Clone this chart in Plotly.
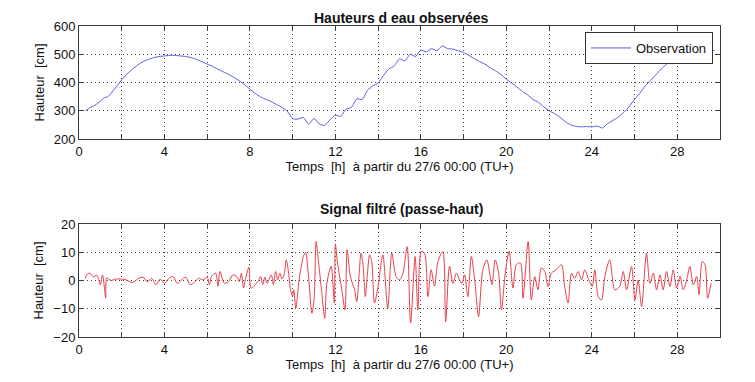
import plotly.graph_objects as go

# ---- Data ----
obs_t = [0.3, 0.5, 0.75, 1.0, 1.2, 1.35, 1.5, 1.75, 2.0, 2.25, 2.5, 2.75, 3.0, 3.25, 3.5, 3.75,
         4.0, 4.25, 4.5, 4.75, 5.0, 5.25, 5.5, 5.75, 6.0, 6.25, 6.5, 6.75, 7.0, 7.25, 7.5, 7.75,
         8.0, 8.25, 8.5, 8.75, 9.0, 9.25, 9.5, 9.75, 10.0, 10.2, 10.5, 10.75, 11.0, 11.25, 11.5,
         11.75, 12.0, 12.25, 12.5, 12.75, 13.0, 13.25, 13.5, 13.75, 14.0, 14.25, 14.5, 14.75,
         15.0, 15.25, 15.5, 15.75, 16.0, 16.25, 16.5, 16.75, 17.0, 17.25, 17.5, 17.75, 18.0,
         18.25, 18.5, 18.75, 19.0, 19.25, 19.5, 19.75, 20.0, 20.25, 20.5, 20.75, 21.0, 21.25,
         21.5, 21.75, 22.0, 22.25, 22.5, 22.75, 23.0, 23.25, 23.5, 23.75, 24.0, 24.25, 24.5,
         24.75, 25.0, 25.25, 25.5, 25.75, 26.0, 26.25, 26.5, 26.75, 27.0, 27.25, 27.5, 27.75,
         28.0, 28.25, 28.5, 28.75, 29.0, 29.25, 29.5, 29.75]
obs_h = [300, 310, 320, 334, 347, 349, 362, 385, 410, 430, 447, 462, 474, 482, 488, 492,
         494, 496, 496, 494, 492, 488, 482, 474, 465, 457, 447, 438, 429, 418, 406, 392,
         376, 361, 349, 340, 332, 322, 312, 298, 272, 270, 276, 252, 273, 253, 248,
         268, 284, 280, 306, 312, 342, 340, 372, 388, 398, 425, 448, 458,
         484, 476, 500, 492, 515, 508, 520, 512, 530, 520, 518, 512, 506,
         496, 484, 474, 465, 452, 441, 428, 412, 398, 384, 368, 356, 340,
         330, 314, 300, 290, 278, 262, 250, 245, 243, 244, 243, 246, 239,
         255, 266, 278, 294, 315, 340, 362, 388, 408, 428, 448, 465, 476,
         484, 495, 503, 506, 507, 509, 512, 513]

filt_t = [0.3, 0.35, 0.5, 0.7, 0.8, 0.9, 1.0, 1.1, 1.2, 1.25, 1.3, 1.5, 1.7, 2.0, 2.2, 2.5,
          2.8, 3.0, 3.2, 3.4, 3.6, 3.8, 4.0, 4.2, 4.4, 4.6, 4.8, 5.0, 5.2, 5.4, 5.6, 5.8,
          6.0, 6.1, 6.2, 6.4, 6.5, 6.6, 6.8, 7.0, 7.2, 7.4, 7.5, 7.6, 7.7, 7.8, 7.95, 8.05,
          8.2, 8.4, 8.5, 8.6, 8.7, 8.8, 9.0, 9.1, 9.2, 9.3, 9.4, 9.5, 9.6, 9.7, 9.8, 9.9,
          10.0, 10.05, 10.15, 10.3, 10.5, 10.6, 10.75, 10.9, 11.0, 11.1, 11.2, 11.35, 11.5,
          11.6, 11.8, 11.95, 12.0, 12.1, 12.3, 12.45, 12.55, 12.7, 12.9, 13.0, 13.2, 13.3,
          13.4, 13.5, 13.6, 13.7, 13.83, 14.0, 14.22, 14.45, 14.64, 14.84, 15.0, 15.16,
          15.36, 15.52, 15.73, 15.86, 16.02, 16.17, 16.33, 16.48, 16.64, 16.8, 17.03, 17.16,
          17.34, 17.5, 17.66, 17.81, 17.92, 18.05, 18.2, 18.36, 18.52, 18.7, 18.9, 19.09,
          19.22, 19.33, 19.48, 19.64, 19.77, 19.95, 20.13, 20.31, 20.47, 20.66, 20.78, 21.02,
          21.17, 21.33, 21.48, 21.64, 21.8, 21.95, 22.11, 22.34, 22.58, 22.73, 22.89, 23.05,
          23.2, 23.36, 23.52, 23.67, 23.83, 24.02, 24.14, 24.3, 24.45, 24.61, 24.84, 25.08,
          25.31, 25.47, 25.63, 25.86, 26.02, 26.17, 26.33, 26.56, 26.72, 26.88, 27.03, 27.19,
          27.34, 27.5, 27.66, 27.81, 27.97, 28.13, 28.28, 28.44, 28.59, 28.75, 28.91, 29.02,
          29.17, 29.3, 29.42, 29.58]
filt_h = [0.8, 2.0, 2.6, 1.2, 2.0, 0.8, -1.5, 2.0, -3.3, -6.3, 0.8, 0.0, 0.5, 0.5, 0.2, -0.7,
          0.8, 1.2, -0.5, 0.8, -1.5, 0.5, -1.0, 0.8, 1.4, -1.0, 0.2, 1.2, -1.5, -0.7, 0.8, 0.2,
          1.2, -1.5, 1.4, 2.6, -2.1, 3.2, -1.0, -0.4, 2.0, 1.2, -0.4, 2.6, -2.7, 0.8, 4.7, -2.7,
          -1.9, 0.0, 1.4, -1.5, 1.2, -1.0, 2.0, -1.5, 3.2, 0.2, 2.6, 0.5, 2.0, 7.3, 3.2, -3.3,
          -5.7, -3.3, -9.8, 0.2, 8.5, 10.0, 0.8, -11.6, -6.9, 13.8, 7.3, -3.3, -13.4,
          -1.0, 5.0, -8.0, 12.7, 6.2, -3.3, -10.4, 10.9, 1.4, -3.3, -7.5, 9.7, 5.0,
          -5.7, 2.6, 9.1, 6.7, -8.0, -2.0, 9.1, -9.8, 9.7, 1.4, 0.2, 2.6,
          12.0, -15.0, 8.5, -10.4, 10.3, 9.7, -5.7, 3.8, -2.0, 6.7, 10.3, -14.6,
          5.0, -1.0, 2.6, 0.2, -1.0, 2.0, -5.7, 8.5, 0.2, -12.8, 3.8, 7.3,
          2.6, -1.5, 7.3, 2.6, -10.4, 2.6, 10.3, -2.7, 5.6, 6.2, -6.3, 13.8,
          -6.9, 1.4, -3.3, 4.4, 3.2, -2.1, 2.6, 3.8, 5.6, -2.1, -8.0, 2.6,
          0.8, 3.2, 0.2, 3.8, 0.8, -2.1, 3.8, -5.7, -6.9, 1.4, 7.3, -3.3,
          -2.1, 3.2, -3.3, 5.0, -6.9, 0.2, -9.2, 9.7, -1.0, 2.6, -3.3, 2.0,
          -3.3, 3.2, -2.1, 3.8, -2.7, 1.4, -3.3, 0.2, 5.0, -1.5, 1.4, -5.0,
          6.7, 5.6, -6.3, -1.0]

x_ticks = list(range(0, 31, 2))
x_labels = [str(v) if v % 4 == 0 and v < 30 else "" for v in x_ticks]
top_ticks = [200, 300, 400, 500, 600]
bot_ticks = [-20, -10, 0, 10, 20]

FONT = "Arial, Liberation Sans, sans-serif"
AX = "#3a3a3a"
GRID = "#444444"

# page body has an 8px margin: domains are offset to compensate
W, H, OFF = 755, 382, 8
def xd(a, b):
    return [(a - OFF) / W, (b - OFF) / W]
def yd(top, bottom):
    return [1 - (bottom - OFF) / H, 1 - (top - OFF) / H]

fig = go.Figure()
fig.add_trace(go.Scatter(x=obs_t, y=obs_h, mode="lines", name="Observation",
                         line=dict(color="#5a5ae6", width=1, shape="spline", smoothing=0.5),
                         xaxis="x", yaxis="y"))
fig.add_trace(go.Scatter(x=filt_t, y=filt_h, mode="lines", name="Filtré", showlegend=False,
                         line=dict(color="#e8404c", width=1, shape="spline", smoothing=0.8),
                         xaxis="x2", yaxis="y2"))

def xaxis(anchor):
    return dict(domain=xd(79, 720), range=[0, 30], anchor=anchor, automargin=False,
                tickvals=x_ticks, ticktext=x_labels, ticks="inside", ticklen=4,
                tickcolor=AX, linecolor=AX, linewidth=1, mirror="ticks",
                showgrid=True, gridcolor=GRID, griddash="1px,3px", gridwidth=1,
                zeroline=False, tickfont=dict(size=13, color="#111", family=FONT),
                title=dict(text="Temps  [h]  à partir du 27/6 00:00 (TU+)",
                           font=dict(size=13, color="#111", family=FONT), standoff=2))

def yaxis(anchor, dom, rng, ticks):
    return dict(domain=dom, range=rng, anchor=anchor, tickvals=ticks, automargin=False,
                ticks="inside", ticklen=4, tickcolor=AX, linecolor=AX, linewidth=1,
                mirror="ticks", showgrid=True, gridcolor=GRID, griddash="1px,3px", gridwidth=1,
                zeroline=False, tickfont=dict(size=13, color="#111", family=FONT),
                title=dict(text="Hauteur  [cm]", font=dict(size=13, color="#111", family=FONT),
                           standoff=6))

fig.update_layout(
    width=W, height=H,
    margin=dict(l=0, r=0, t=0, b=0, autoexpand=False),
    paper_bgcolor="white", plot_bgcolor="white",
    font=dict(family=FONT),
    xaxis=xaxis("y"),
    yaxis=yaxis("x", yd(26, 139), [200, 600], top_ticks),
    xaxis2=xaxis("y2"),
    yaxis2=yaxis("x2", yd(224, 337), [-20, 20], bot_ticks),
    showlegend=True,
    legend=dict(x=(713 - OFF) / W, y=1 - (32 - OFF) / H, xanchor="right", yanchor="top",
                bgcolor="white", bordercolor="#333", borderwidth=1,
                font=dict(size=13, color="#111", family=FONT),
                itemwidth=40, tracegroupgap=0),
    annotations=[
        dict(text="<b>Hauteurs d eau observées</b>", x=(401 - OFF) / W, y=1.0,
             xref="paper", yref="paper", showarrow=False, xanchor="center", yanchor="top",
             font=dict(size=14, color="#111", family=FONT)),
        dict(text="<b>Signal filtré (passe-haut)</b>", x=(401 - OFF) / W, y=1 - (209 - OFF) / H,
             xref="paper", yref="paper", showarrow=False, xanchor="center", yanchor="middle",
             font=dict(size=14, color="#111", family=FONT)),
    ],
)

fig.write_html("out.html")
